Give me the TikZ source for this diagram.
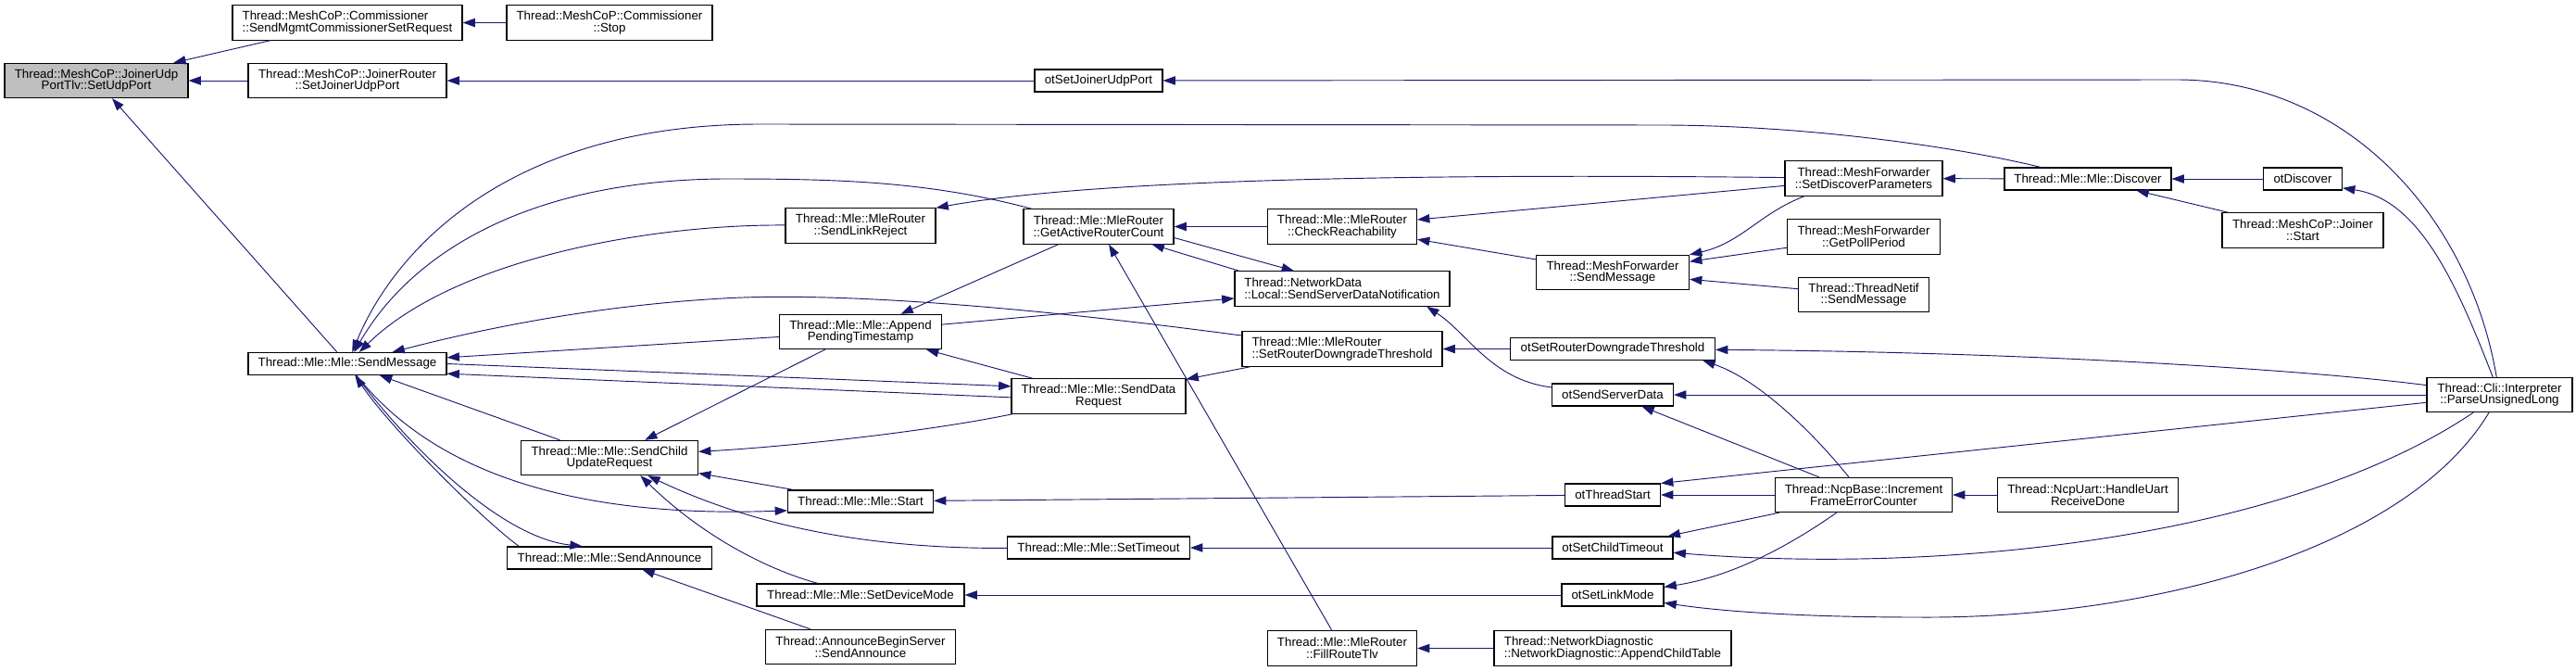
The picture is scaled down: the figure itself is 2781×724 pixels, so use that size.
\documentclass[tikz,border=0pt]{standalone}
\usepackage{fontspec}
\setmainfont{Liberation Sans}
\usepackage{xcolor}
\usetikzlibrary{arrows.meta}
\definecolor{edgeblue}{HTML}{191970}
\definecolor{hlgray}{HTML}{BFBFBF}

\begin{document}
\begin{tikzpicture}[x=0.75pt,y=-0.75pt,
    fn/.style={draw=black,line width=0.8pt,fill=white,minimum width=#1*0.75pt,minimum height=18pt,
      inner sep=1pt,align=center,font=\fontsize{10}{9.5}\selectfont},
    tall/.style={minimum height=28pt},
    caller/.style={draw=edgeblue,line width=0.7pt,-{Triangle[length=10pt,width=7pt]}}]
  \useasboundingbox (0,0) rectangle (2781,724);

  % Functions
  \node[fn=198,tall,fill=hlgray] (setudp) at (104,87) {Thread::MeshCoP::JoinerUdp\\PortTlv::SetUdpPort};
  \node[fn=248,tall,align=left] (mgmt) at (375,24.5) {Thread::MeshCoP::Commissioner\\::SendMgmtCommissionerSetRequest};
  \node[fn=222,tall] (stop) at (658,24.5) {Thread::MeshCoP::Commissioner\\::Stop};
  \node[fn=214,tall] (joinport) at (375,87) {Thread::MeshCoP::JoinerRouter\\::SetJoinerUdpPort};
  \node[fn=214] (sendmsg) at (375,392.5) {Thread::Mle::Mle::SendMessage};
  \node[fn=191,tall] (childupd) at (658,494) {Thread::Mle::Mle::SendChild\\UpdateRequest};
  \node[fn=221] (announce) at (658,602) {Thread::Mle::Mle::SendAnnounce};
  \node[fn=162,tall] (linkrej) at (929,243.5) {Thread::Mle::MleRouter\\::SendLinkReject};
  \node[fn=175,tall] (pendts) at (929,358) {Thread::Mle::Mle::Append\\PendingTimestamp};
  \node[fn=157] (mlestart) at (929,541) {Thread::Mle::Mle::Start};
  \node[fn=224] (devmode) at (929,642) {Thread::Mle::Mle::SetDeviceMode};
  \node[fn=205,tall] (beginsrv) at (929,698) {Thread::AnnounceBeginServer\\::SendAnnounce};
  \node[fn=162,tall] (routercnt) at (1186,244.5) {Thread::Mle::MleRouter\\::GetActiveRouterCount};
  \node[fn=188,tall] (datareq) at (1186,427.5) {Thread::Mle::Mle::SendData\\Request};
  \node[fn=197] (settimeout) at (1186,591) {Thread::Mle::Mle::SetTimeout};
  \node[fn=138] (otjoinport) at (1186,87) {otSetJoinerUdpPort};
  \node[fn=161,tall] (reach) at (1449,244.5) {Thread::Mle::MleRouter\\::CheckReachability};
  \node[fn=232,tall,align=left] (srvnotif) at (1449,311.5) {Thread::NetworkData\\::Local::SendServerDataNotification};
  \node[fn=216,tall,align=left] (downgrade) at (1449,376.5) {Thread::Mle::MleRouter\\::SetRouterDowngradeThreshold};
  \node[fn=161,tall] (fillroute) at (1449,699.5) {Thread::Mle::MleRouter\\::FillRouteTlv};
  \node[fn=165,tall] (mfsend) at (1741,294) {Thread::MeshForwarder\\::SendMessage};
  \node[fn=221] (otdowngrade) at (1741,376.5) {otSetRouterDowngradeThreshold};
  \node[fn=131] (otsrvdata) at (1741,426) {otSendServerData};
  \node[fn=103] (otstart) at (1741,534) {otThreadStart};
  \node[fn=130] (otchildto) at (1741,591) {otSetChildTimeout};
  \node[fn=110] (otlinkmode) at (1741,642) {otSetLinkMode};
  \node[fn=256,tall,align=left] (childtable) at (1741,699.5) {Thread::NetworkDiagnostic\\::NetworkDiagnostic::AppendChildTable};
  \node[fn=170,tall] (discparams) at (2012,192.5) {Thread::MeshForwarder\\::SetDiscoverParameters};
  \node[fn=165,tall] (pollperiod) at (2012,255.5) {Thread::MeshForwarder\\::GetPollPeriod};
  \node[fn=141,tall] (netifsend) at (2012,318) {Thread::ThreadNetif\\::SendMessage};
  \node[fn=191,tall] (frameerr) at (2012,534) {Thread::NcpBase::Increment\\FrameErrorCounter};
  \node[fn=180] (discover) at (2254,193) {Thread::Mle::Mle::Discover};
  \node[fn=195,tall] (uartdone) at (2254,534) {Thread::NcpUart::HandleUart\\ReceiveDone};
  \node[fn=85] (otdiscover) at (2486,193) {otDiscover};
  \node[fn=174,tall] (joinstart) at (2486,248.5) {Thread::MeshCoP::Joiner\\::Start};
  \node[fn=157,tall] (parse) at (2698.5,426) {Thread::Cli::Interpreter\\::ParseUnsignedLong};

  % Callers of SetUdpPort
  \draw[caller] (mgmt) -- (setudp);
  \draw[caller] (stop) -- (mgmt);
  \draw[caller] (joinport) -- (setudp);
  \draw[caller] (sendmsg) -- (setudp);
  \draw[caller] (otjoinport) -- (joinport);
  \draw[caller] (parse) .. controls (2665,230) and (2530,86) .. (2350,86) -- (otjoinport);

  % Into and out of Mle::SendMessage
  \draw[caller] (discover) .. controls (2120,160) and (1960,136) .. (1800,135) -- (820,134)
    .. controls (560,134) and (430,260) .. (sendmsg);
  \draw[caller] (routercnt) .. controls (1000,195) and (900,193) .. (780,193)
    .. controls (560,195) and (440,280) .. (sendmsg);
  \draw[caller] (linkrej) .. controls (700,242) and (490,280) .. (sendmsg);
  \draw[caller] (downgrade) .. controls (1100,330) and (900,315) .. (780,322)
    .. controls (640,330) and (520,355) .. (sendmsg);
  \draw[caller] (pendts) -- (sendmsg);
  \draw[caller] ([yshift=-1pt]datareq.west) -- ([yshift=-8pt]sendmsg.east);
  \draw[caller] (childupd) -- (sendmsg);
  \draw[caller] ([xshift=10pt]announce.north west) .. controls (520,560) and (420,460) .. (sendmsg);
  \draw[caller] (sendmsg.east) -- ([yshift=8pt]datareq.west);
  \draw[caller] (sendmsg) .. controls (460,500) and (600,560) .. ([yshift=2pt]mlestart.south west);
  \draw[caller] (sendmsg) .. controls (440,480) and (540,580) .. ([xshift=-22pt]announce.north);

  % Mle / MleRouter / NetworkData
  \draw[caller] (discparams) .. controls (1600,188) and (1200,190) .. (linkrej.north east);
  \draw[caller] (reach) -- (routercnt);
  \draw[caller] ([xshift=4pt]srvnotif.north west) -- ([xshift=-18pt]routercnt.south east);
  \draw[caller] ([yshift=-9pt]routercnt.east) -- ([xshift=-39pt]srvnotif.north);
  \draw[caller] (fillroute) -- (routercnt);
  \draw[caller] (routercnt) -- (pendts);
  \draw[caller] (discparams) -- (reach);
  \draw[caller] (mfsend) -- (reach);
  \draw[caller] (pendts) -- (srvnotif);
  \draw[caller] (otsrvdata) .. controls (1610,410) and (1585,360) .. ([xshift=-19pt]srvnotif.south east);
  \draw[caller] (datareq) -- (pendts);
  \draw[caller] (pendts) -- (childupd);
  \draw[caller] (datareq) .. controls (1000,466) and (850,482) .. ([yshift=5pt]childupd.east);
  \draw[caller] (mlestart) -- (childupd);
  \draw[caller] (settimeout) .. controls (960,592) and (830,575) .. ([xshift=31pt]childupd.south);
  \draw[caller] (devmode) .. controls (830,615) and (760,580) .. ([xshift=25pt]childupd.south);
  \draw[caller] (otdowngrade) -- (downgrade);
  \draw[caller] (downgrade) -- (datareq);
  \draw[caller] (otstart) -- (mlestart);
  \draw[caller] (otchildto) -- (settimeout);
  \draw[caller] (otlinkmode) -- (devmode);
  \draw[caller] (beginsrv) -- (announce);
  \draw[caller] (childtable) -- (fillroute);

  % MeshForwarder, Discover
  \draw[caller] (discover) -- (discparams);
  \draw[caller] ([xshift=-48pt]discparams.south) .. controls (1900,230) and (1880,262) .. (mfsend.north east);
  \draw[caller] (pollperiod) -- (mfsend);
  \draw[caller] (netifsend) -- (mfsend);
  \draw[caller] (otdiscover) -- (discover);
  \draw[caller] (joinstart) -- (discover);
  \draw[caller] (uartdone) -- (frameerr);

  % Cli::Interpreter and NcpBase
  \draw[caller] (parse) .. controls (2650,300) and (2610,215) .. ([yshift=2pt]otdiscover.south east);
  \draw[caller] (parse) .. controls (2500,400) and (2200,380) .. (otdowngrade);
  \draw[caller] (parse) -- (otsrvdata);
  \draw[caller] (parse) -- (otstart.north east);
  \draw[caller] (parse) .. controls (2470,580) and (2100,620) .. (otchildto);
  \draw[caller] (parse) .. controls (2600,590) and (2330,668) .. (2070,666)
    .. controls (1950,666) and (1860,660) .. (otlinkmode);
  \draw[caller] ([xshift=-12pt]frameerr.north) .. controls (1960,470) and (1900,410) .. ([xshift=73pt]otdowngrade.south);
  \draw[caller] (frameerr) -- (otsrvdata);
  \draw[caller] (frameerr) -- (otstart);
  \draw[caller] (frameerr) -- (otchildto);
  \draw[caller] ([xshift=-22pt]frameerr.south) .. controls (1930,590) and (1870,622) .. (otlinkmode);
\end{tikzpicture}
\end{document}
